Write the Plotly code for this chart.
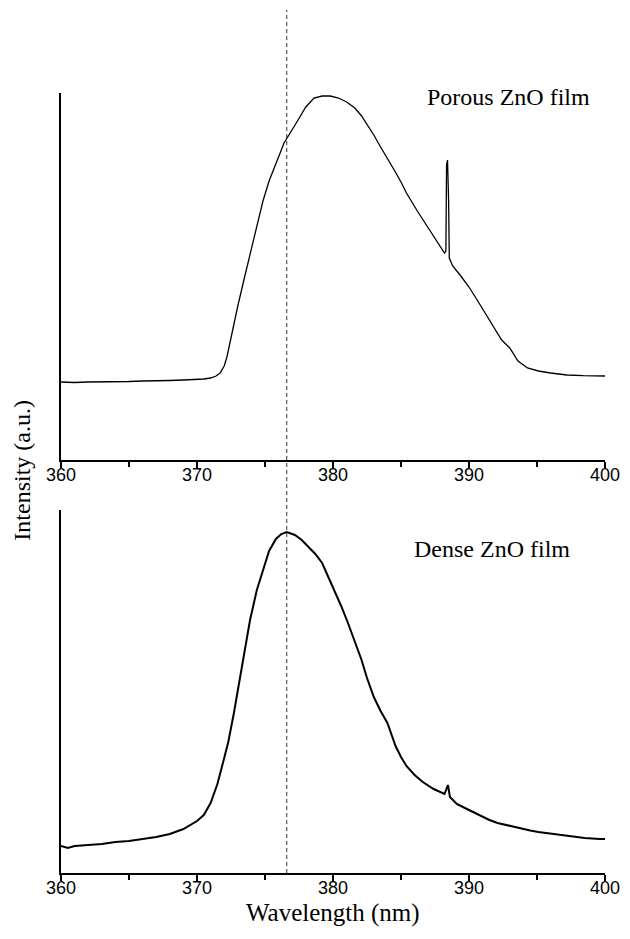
import plotly.graph_objects as go

# ---------------- data ----------------
porous_nm = [360.0, 361, 362, 363, 364, 365, 366, 367, 368, 369, 370, 370.5, 371, 371.4, 371.7,
             372.0, 372.2, 372.6, 373.0, 373.5, 374.0, 374.5, 374.85, 375.3, 375.8, 376.4, 377.3,
             378.0, 378.6, 379.2, 379.8, 380.4, 381.0, 381.6, 382.1, 382.55, 383.0, 383.5, 384.0,
             384.5, 385.0, 385.4, 386.2, 386.8, 387.4, 388.0, 388.2, 388.3, 388.35, 388.42, 388.5,
             388.55, 388.8, 389.4, 390.0, 390.6, 391.2, 391.8, 392.4, 393.0, 393.6, 394.3, 395.1,
             396.0, 397.2, 398.4, 399.8, 400.0]
porous_int = [780, 775, 780, 780, 785, 785, 790, 790, 795, 800, 805, 810, 820, 840, 870,
              940, 1030, 1300, 1540, 1830, 2110, 2390, 2590, 2790, 2970, 3170, 3370,
              3530, 3620, 3640, 3640, 3620, 3580, 3520, 3440, 3350, 3250, 3130, 3020,
              2900, 2780, 2670, 2490, 2360, 2230, 2100, 2070, 2090, 2950, 3000, 2600,
              2020, 1940, 1840, 1730, 1600, 1470, 1330, 1200, 1120, 990, 920, 890,
              870, 850, 843, 840, 840]

dense_nm = [360.0, 360.5, 361, 362, 363, 364, 365, 366, 367, 368, 369, 370, 370.5, 371, 371.5,
            372.0, 372.3, 372.7, 373.0, 373.4, 373.9, 374.4, 374.85, 375.3, 375.8, 376.2, 376.6,
            377.2, 377.7, 378.2, 378.7, 379.2, 379.6, 380.1, 380.6, 381.1, 381.6, 382.1, 382.5,
            383.0, 383.5, 384.0, 384.6, 385.0, 385.4, 386.0, 386.6, 387.4, 388.2, 388.45, 388.6,
            389.1, 389.7, 390.3, 390.9, 391.5, 392.1, 392.7, 393.3, 393.9, 394.5, 395.1, 396.3,
            397.5, 398.5, 399.6, 400.0]
dense_int = [270, 250, 270, 280, 290, 310, 320, 340, 360, 390, 440, 520, 580, 700, 890,
             1150, 1310, 1590, 1830, 2160, 2530, 2830, 3030, 3220, 3340, 3390, 3410,
             3380, 3330, 3260, 3190, 3100, 2980, 2830, 2670, 2500, 2320, 2130, 1950,
             1760, 1620, 1500, 1270, 1160, 1070, 980, 910, 840, 790, 880, 760,
             690, 650, 610, 570, 530, 500, 480, 460, 440, 425, 410, 390,
             365, 350, 340, 340]

x_ticks = [360, 370, 380, 390, 400]
marker_nm = 376.6
labels = ["Porous ZnO film", "Dense ZnO film"]

# ---------------- layout geometry (page pixels; body margin removed below) ----------------
W, H = 630, 939
H0, H1 = 873, 10      # plot area bottom/top
L0, R0 = 61, 614      # plot area left/right
plot_h = H0 - H1
plot_w = R0 - L0


def fy(px):
    return (H0 - px) / plot_h


def fx(px):
    return (px - L0) / plot_w


# ---------------- figure ----------------
fig = go.Figure()
fig.add_trace(go.Scatter(x=porous_nm, y=porous_int, mode="lines",
                         line=dict(color="black", width=1.3), xaxis="x", yaxis="y",
                         showlegend=False))
fig.add_trace(go.Scatter(x=dense_nm, y=dense_int, mode="lines",
                         line=dict(color="black", width=2), xaxis="x2", yaxis="y2",
                         showlegend=False))

tick_font = dict(family="Liberation Sans, Arial", size=18, color="black")
serif = "Liberation Serif, Times New Roman"

xcommon = dict(range=[360, 400], tickvals=x_ticks, ticks="outside", ticklen=6, tickwidth=1.5,
               tickcolor="black", showline=True, linecolor="black", linewidth=2,
               showgrid=False, zeroline=False, tickfont=tick_font,
               ticklabeloverflow="allow", ticklabelstandoff=-9,
               minor=dict(dtick=5, tick0=360, ticks="outside", ticklen=5, tickwidth=1.5,
                          tickcolor="black", showgrid=False))
ycommon = dict(showline=True, linecolor="black", linewidth=2, showticklabels=False,
               ticks="", showgrid=False, zeroline=False)

fig.update_layout(
    width=W, height=H,
    margin=dict(l=L0, r=W - R0, t=H1, b=H - H0, pad=0),
    plot_bgcolor="white", paper_bgcolor="white",
    xaxis=dict(anchor="y", **xcommon),
    yaxis=dict(domain=[fy(460), fy(93)], range=[0, 3670], anchor="x", **ycommon),
    xaxis2=dict(anchor="y2", **xcommon),
    yaxis2=dict(domain=[0, fy(510)], range=[0, 3630], anchor="x2", **ycommon),
    shapes=[dict(type="line", xref="x", yref="paper", x0=marker_nm, x1=marker_nm,
                 y0=0, y1=1, line=dict(color="#333333", width=1, dash="4px,3px"))],
    annotations=[
        dict(text=labels[0], xref="paper", yref="paper", x=fx(516), y=fy(97),
             xanchor="center", yanchor="middle", showarrow=False,
             font=dict(family=serif, size=24, color="black")),
        dict(text=labels[1], xref="paper", yref="paper", x=fx(499), y=fy(549),
             xanchor="center", yanchor="middle", showarrow=False,
             font=dict(family=serif, size=24, color="black")),
        dict(text="Intensity (a.u.)", xref="paper", yref="paper", x=fx(21), y=fy(470),
             xanchor="center", yanchor="middle", textangle=-90, showarrow=False,
             font=dict(family=serif, size=24, color="black")),
        dict(text="Wavelength (nm)", xref="paper", yref="paper", x=fx(338), y=fy(913),
             xanchor="center", yanchor="middle", showarrow=False,
             font=dict(family=serif, size=25, color="black")),
    ],
)

fig.write_html("out.html", config={"displayModeBar": False},
               post_script="document.body.style.margin='0';document.body.style.overflow='hidden';")
